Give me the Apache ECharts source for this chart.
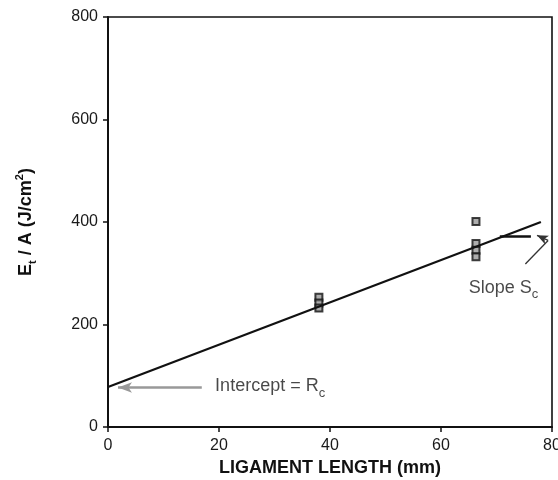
<!DOCTYPE html>
<html>
<head>
<meta charset="utf-8">
<script src="https://cdn.jsdelivr.net/npm/echarts@6/dist/echarts.min.js"></script>
<style>html,body{margin:0;padding:0;background:#fff;}#c{width:558px;height:480px;}</style>
</head>
<body>
<div id="c"></div>
<script>
// Data
var xTicks = [0, 20, 40, 60, 80];
var yTicks = [0, 200, 400, 600, 800];
var pointsX = [38, 38, 38, 66.3, 66.3, 66.3, 66.3];
var pointsY = [253, 242, 232, 401, 358, 345, 332];
var fitX = [0, 78];
var fitY = [78, 400];
// Annotation anchors (data coordinates)
var interceptArrowX = [16.9, 1.8];
var interceptArrowY = [77, 77];
var slopeBarX = [70.6, 76.2];
var slopeBarY = [373, 373];
var slopeLeaderX = [75.2, 79.3, 77.3];
var slopeLeaderY = [318, 364, 374];
var labelIntercept = [19.3, 79];
var labelSlope = [65.0, 271];

var font = 'Liberation Sans, Arial, Helvetica, sans-serif';
var chart = echarts.init(document.getElementById('c'));
var pts = pointsX.map(function (x, i) { return [x, pointsY[i]]; });
var fit = fitX.map(function (x, i) { return [x, fitY[i]]; });

chart.setOption({
  animation: false,
  backgroundColor: '#fff',
  grid: { left: 108, right: 6, top: 17, bottom: 53, show: true, borderColor: '#111', borderWidth: 1.6, backgroundColor: 'transparent', containLabel: false, outerBoundsMode: 'none' },
  xAxis: {
    type: 'value', min: xTicks[0], max: xTicks[xTicks.length - 1], interval: 20,
    splitLine: { show: false },
    axisLine: { lineStyle: { color: '#111', width: 2 } },
    axisTick: { show: true, length: 5, lineStyle: { color: '#111', width: 1.5 } },
    axisLabel: { color: '#1a1a1a', fontSize: 16, fontFamily: font, margin: 11 },
    name: 'LIGAMENT LENGTH (mm)', nameLocation: 'middle', nameGap: 31,
    nameTextStyle: { color: '#111', fontSize: 18, fontWeight: 'bold', fontFamily: font }
  },
  yAxis: {
    type: 'value', min: yTicks[0], max: yTicks[yTicks.length - 1], interval: 200,
    splitLine: { show: false },
    axisLine: { lineStyle: { color: '#111', width: 2 } },
    axisTick: { show: true, length: 5, lineStyle: { color: '#111', width: 1.5 } },
    axisLabel: { color: '#1a1a1a', fontSize: 16, fontFamily: font, margin: 10 },
    name: '{m|E}{s|t}{m| / A (J/cm}{p|2}{m|)}', nameLocation: 'middle', nameRotate: 90, nameGap: 70,
    nameTextStyle: {
      color: '#111', fontFamily: font,
      rich: {
        m: { fontSize: 18, fontWeight: 'bold', fontFamily: font, color: '#111', lineHeight: 24, verticalAlign: 'middle' },
        s: { fontSize: 11, fontWeight: 'bold', fontFamily: font, color: '#111', lineHeight: 24, verticalAlign: 'bottom' },
        p: { fontSize: 11, fontWeight: 'bold', fontFamily: font, color: '#111', lineHeight: 24, verticalAlign: 'top' }
      }
    }
  },
  series: [
    {
      type: 'line', data: fit, symbol: 'none', silent: true,
      lineStyle: { color: '#111', width: 2.2 }
    },
    {
      type: 'scatter', data: pts, symbol: 'rect', symbolSize: 7,
      itemStyle: { color: '#999', borderColor: '#111', borderWidth: 2 }
    },
    {
      type: 'line', data: slopeLeaderX.slice(0, 2).map(function (x, i) { return [x, slopeLeaderY[i]]; }),
      symbol: 'none', lineStyle: { color: '#333', width: 1.3 },
      markLine: {
        silent: true, symbol: ['none', 'arrow'], symbolSize: [7, 11], label: { show: false },
        data: [
          [{ coord: [slopeLeaderX[1], slopeLeaderY[1]] }, { coord: [slopeLeaderX[2], slopeLeaderY[2]] }]
        ],
        lineStyle: { color: '#333', width: 1.3, type: 'solid' }
      }
    },
    {
      type: 'line', data: [], symbol: 'none',
      markLine: {
        silent: true, symbol: ['none', 'none'], label: { show: false },
        lineStyle: { color: '#111', width: 2.5, type: 'solid' },
        data: [
          [{ coord: [slopeBarX[0], slopeBarY[0]] }, { coord: [slopeBarX[1], slopeBarY[1]] }]
        ]
      }
    },
    {
      type: 'line', data: [], symbol: 'none',
      markLine: {
        silent: true, symbol: ['none', 'arrow'], symbolSize: [8, 14], label: { show: false },
        data: [
          [{ coord: [interceptArrowX[0], interceptArrowY[0]], lineStyle: { color: '#999', width: 2.5, type: 'solid' } },
           { coord: [interceptArrowX[1], interceptArrowY[1]] }]
        ]
      }
    },
    {
      type: 'scatter', symbolSize: 0, silent: true,
      data: [
        { value: labelIntercept, label: { formatter: '{m|Intercept = R}{s|c}' } },
        { value: labelSlope, label: { formatter: '{m|Slope S}{s|c}' } }
      ],
      label: {
        show: true, position: 'right', distance: 0, color: '#1a1a1a',
        rich: {
          m: { fontSize: 18, fontFamily: font, color: '#1a1a1a', lineHeight: 26, verticalAlign: 'middle' },
          s: { fontSize: 13, fontFamily: font, color: '#1a1a1a', lineHeight: 26, verticalAlign: 'bottom' }
        }
      }
    }
  ]
});
</script>
</body>
</html>
